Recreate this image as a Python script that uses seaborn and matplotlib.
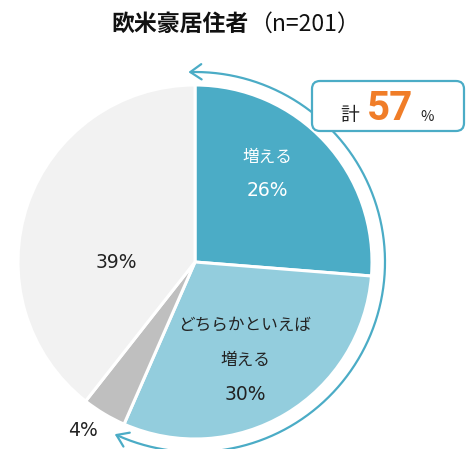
import numpy as np
import matplotlib
matplotlib.use("Agg")
import matplotlib.pyplot as plt
from matplotlib.patches import FancyArrowPatch, FancyBboxPatch
from matplotlib.path import Path
import seaborn as sns

# Survey answers: share of respondents (%)
categories = ["増える", "どちらかといえば増える", "変わらない", "減る"]
shares = [26, 30, 4, 39]
colors = ["#4BACC6", "#93CDDD", "#BFBFBF", "#F2F2F2"]
total_increase = 57

sns.set_theme(style="white")
plt.rcParams["font.family"] = ["Noto Sans CJK JP", "DejaVu Sans"]

W, H = 466, 449
fig = plt.figure(figsize=(W / 100, H / 100), dpi=100)
ax = fig.add_axes([0, 0, 1, 1])

cx, cy, r = 195, 262, 177

# y axis is flipped below, so start at -90 (screen top) and sweep clockwise on screen
wedges, _ = ax.pie(shares, colors=colors, startangle=-90, counterclock=True,
                   center=(cx, cy), radius=r, frame=True,
                   wedgeprops=dict(edgecolor="white", linewidth=2.2))
ax.set_xlim(0, W)
ax.set_ylim(H, 0)
ax.axis("off")

# curved double arrow around the "increase" slices
ra = 190
th = np.radians(np.linspace(92, -115, 200))
verts = np.column_stack([cx + ra * np.cos(th), cy - ra * np.sin(th)])
arc = FancyArrowPatch(path=Path(verts), arrowstyle="<->,head_length=8,head_width=5.5",
                      color="#4BACC6", lw=1.6, zorder=3)
ax.add_patch(arc)

# total box
box = FancyBboxPatch((312, 81), 152, 50, boxstyle="round,pad=0,rounding_size=8",
                     facecolor="white", edgecolor="#4BACC6", lw=1.6, zorder=4)
ax.add_patch(box)
ax.text(350, 115, "計", fontsize=13.5, ha="center", va="center", color="#222222", zorder=5)
ax.text(390, 109, f"{total_increase}", fontsize=29, fontweight="bold", ha="center",
        va="center", color="#F07D28", zorder=5, family="Roboto")
ax.text(427, 117, "%", fontsize=10.5, ha="center", va="center", color="#222222", zorder=5)

# slice labels
jp = dict(fontsize=12, ha="center", va="center")
pct = dict(fontsize=13.5, ha="center", va="center", family="DejaVu Sans")
ax.text(267, 157, "増える", color="white", **jp)
ax.text(267, 191, f"{shares[0]}%", color="white", **pct)
ax.text(245, 325, "どちらかといえば", color="#222222", **jp)
ax.text(245, 360, "増える", color="#222222", **jp)
ax.text(245, 395, f"{shares[1]}%", color="#222222", **pct)
ax.text(116, 262, f"{shares[3]}%", color="#222222", **pct)
ax.text(83, 431, f"{shares[2]}%", color="#222222", **pct)

# title
ax.text(249, 24, "欧米豪居住者", fontsize=16.5, fontweight="bold", ha="right", va="center",
        color="#111111")
ax.text(249, 24, "（n=201）", fontsize=16.5, ha="left", va="center", color="#111111")

fig.savefig("out.png", dpi=100)
